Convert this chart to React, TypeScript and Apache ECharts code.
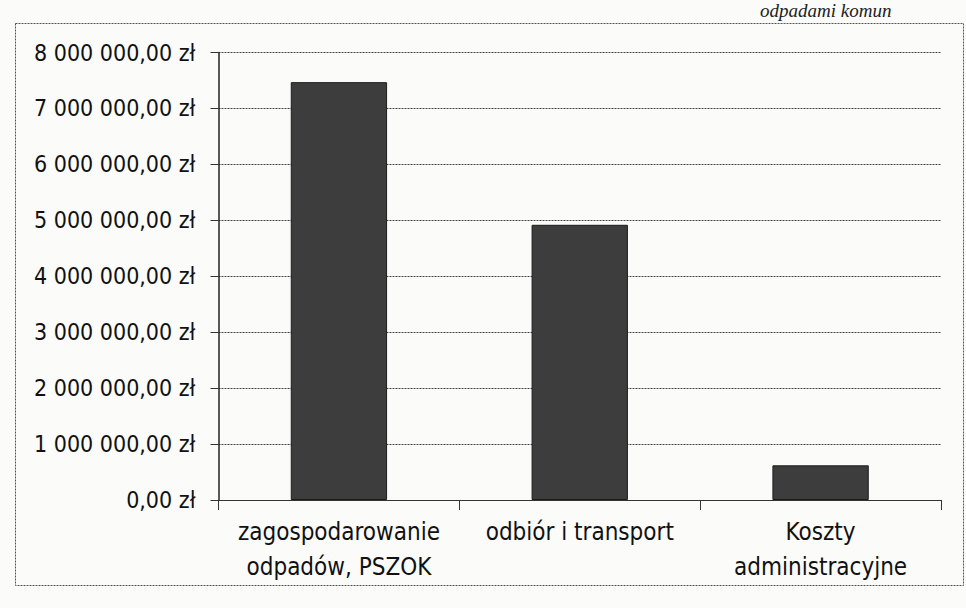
import React, { useEffect, useRef } from "react";
import * as echarts from "echarts";

const categories = ["zagospodarowanie\nodpadów, PSZOK", "odbiór i transport", "Koszty\nadministracyjne"];
const costValues = [7470000, 4920000, 620000];
const yMin = 0;
const yMax = 8000000;
const yStep = 1000000;

const FONT = "'Liberation Sans Narrow', 'DejaVu Sans Condensed', 'Open Sans', sans-serif";

function formatZl(v: number): string {
  const fixed = v.toFixed(2);
  const [intPart, dec] = fixed.split(".");
  const withSpaces = intPart.replace(/\B(?=(\d{3})+(?!\d))/g, " ");
  return `${withSpaces},${dec} zł`;
}

export default function App() {
  const ref = useRef<HTMLDivElement>(null);
  useEffect(() => {
    if (!ref.current) return;
    const chart = echarts.init(ref.current, undefined, { renderer: "svg" });
    chart.setOption({
      animation: false,
      backgroundColor: "#fbfbfa",
      textStyle: { fontFamily: FONT },
      grid: { left: 218.5, top: 52.5, width: 722.5, height: 447.5, containLabel: false },
      graphic: [
        {
          type: "rect",
          shape: { x: 15.5, y: 23.5, width: 948, height: 562 },
          style: { fill: "none", stroke: "#555", lineWidth: 1, lineDash: [2, 1] },
          silent: true,
        },
        {
          type: "text",
          x: 760,
          y: 1,
          style: {
            text: "odpadami komun",
            font: "italic 19px 'Liberation Serif', serif",
            fill: "#222",
          },
          silent: true,
        },
      ],
      xAxis: {
        type: "category",
        data: categories,
        boundaryGap: true,
        axisLine: { show: true, lineStyle: { color: "#333", width: 1 } },
        axisTick: { show: true, alignWithLabel: false, length: 10, lineStyle: { color: "#333", width: 1 } },
        axisLabel: {
          interval: 0,
          fontSize: 24,
          lineHeight: 35,
          margin: 14,
          color: "#111",
          fontFamily: FONT,
        },
        splitLine: { show: false },
      },
      yAxis: {
        type: "value",
        min: yMin,
        max: yMax,
        interval: yStep,
        axisLine: { show: true, lineStyle: { color: "#222", width: 1.5 } },
        axisTick: { show: true, inside: false, length: 8, lineStyle: { color: "#333", width: 1 } },
        axisLabel: {
          formatter: (v: number) => formatZl(v),
          fontSize: 23,
          margin: 23,
          color: "#111",
          fontFamily: FONT,
        },
        splitLine: { show: true, lineStyle: { color: "#444", width: 1, type: [2, 1] } },
      },
      series: [
        {
          type: "bar",
          data: costValues,
          barCategoryGap: "60%",
          itemStyle: { color: "#3d3d3d", borderColor: "#1c1c1c", borderWidth: 1 },
        },
      ],
    });
    return () => chart.dispose();
  }, []);
  return <div ref={ref} style={{ position: "fixed", left: 0, top: 0, width: 966, height: 608 }} />;
}
